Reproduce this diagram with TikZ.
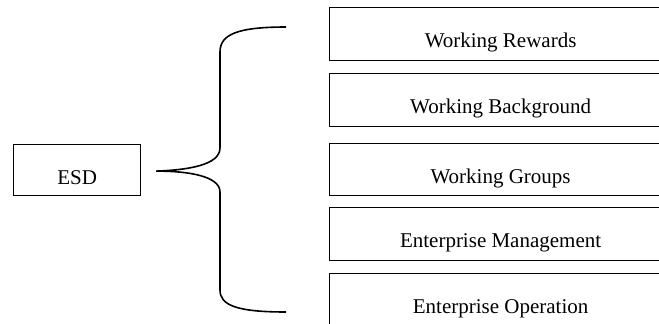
\documentclass[tikz,border=0pt]{standalone}
\usepackage{fontspec}
\setmainfont{Liberation Serif}
\begin{document}
\begin{tikzpicture}[x=1pt,y=-1pt,
  every node/.style={font=\fontsize{21}{25}\selectfont},
  item/.style={draw, line width=1.2pt, rectangle, inner sep=0pt, anchor=north west,
    minimum width=342pt, text height=40pt, text depth=12.5pt},
  rootbox/.style={draw, line width=1.2pt, rectangle, inner sep=0pt, anchor=north west,
    minimum width=127pt, text height=40pt, text depth=11pt},
  bracket/.style={line width=1.6pt}]
\useasboundingbox (0,0) rectangle (659,324);
\clip (0,0) rectangle (659,324);

% root box
\node[rootbox] (esd) at (13,144) {ESD};

% category boxes (they run on past the right edge)
\node[item] (r1) at (329,7)   {Working Rewards};
\node[item] (r2) at (329,73)  {Working Background};
\node[item] (r3) at (329,142.5) {Working Groups};
\node[item] (r4) at (329,207) {Enterprise Management};
\node[item] (r5) at (329,273) {Enterprise Operation};

% curly brace from the root box to the column of boxes
\coordinate (tip) at ([xshift=15pt,yshift=-1pt]esd.east);
\coordinate (top) at (286,27);
\coordinate (bot) at (286,312);
\draw[bracket] (top) .. controls (236,27) and (220,35) .. (220,52)
  -- (220,148) .. controls (220,165) and (188,170) .. (tip)
  .. controls (188,171) and (220,176) .. (220,192)
  -- (220,290) .. controls (220,305) and (236,312) .. (bot);
\end{tikzpicture}
\end{document}
